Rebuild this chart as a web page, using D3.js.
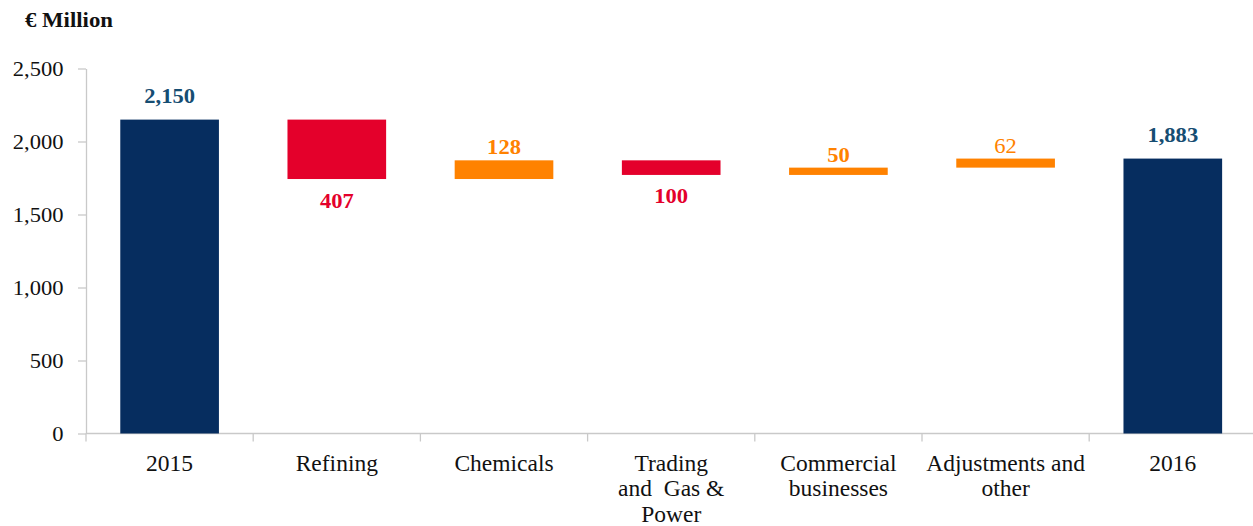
<!DOCTYPE html>
<html>
<head>
<meta charset="utf-8">
<script src="https://cdn.jsdelivr.net/npm/d3@7"></script>
<style>
  body { margin: 0; background: #fff; }
  svg { display: block; font-family: "Liberation Serif", "Times New Roman", serif; }
  .axis path, .axis line { stroke: #c9c9c9; stroke-width: 1.3; }
</style>
</head>
<body>
<svg width="1253" height="526"></svg>
<script>
// waterfall data
const categories = ["2015", "Refining", "Chemicals", "Trading and Gas & Power", "Commercial businesses", "Adjustments and other", "2016"];
const labelLines = [["2015"], ["Refining"], ["Chemicals"], ["Trading", "and  Gas &", "Power"], ["Commercial", "businesses"], ["Adjustments and", "other"], ["2016"]];
const deltas = [2150, -407, 128, -100, 50, 62, 1883];
const kinds = ["total", "down", "up", "down", "up", "up", "total"];
const valueLabels = ["2,150", "407", "128", "100", "50", "62", "1,883"];
const yTicks = [0, 500, 1000, 1500, 2000, 2500];

const colors = { total: "#062d5f", down: "#e4002b", up: "#ff8200" };
const labelColors = { total: "#164d72", down: "#e4002b", up: "#ff8200" };
const stretch = "scale(1.1,1)";

const svg = d3.select("svg");
const plotLeft = 86, plotBottom = 433.5, plotTop = 68.5;

// running start/end of each step
let run = 0;
const rows = categories.map((c, i) => {
    let y0, y1;
    if (kinds[i] === "total") { y0 = 0; y1 = deltas[i]; run = deltas[i]; }
    else { y0 = run; y1 = run + deltas[i]; run = y1; }
    return { cat: c, lines: labelLines[i], kind: kinds[i], lo: Math.min(y0, y1), hi: Math.max(y0, y1), label: valueLabels[i] };
});

const x = d3.scaleBand()
    .domain(categories)
    .range([plotLeft, plotLeft + 7 * 167.2])
    .paddingInner(0.41)
    .paddingOuter(0.205);

const xAxisScale = d3.scaleBand().domain(categories).range([plotLeft, plotLeft + 7 * 167.2]);

const y = d3.scaleLinear().domain([0, 2500]).range([plotBottom, plotTop]);

// y axis
const gY = svg.append("g")
    .attr("class", "axis")
    .attr("transform", `translate(${plotLeft},0)`)
    .call(d3.axisLeft(y).tickValues(yTicks).tickFormat(d3.format(",")).tickSize(8).tickPadding(12.5).tickSizeOuter(0))
    .attr("font-family", null);
gY.selectAll("text")
    .attr("font-size", 20.5)
    .attr("fill", "#111")
    .attr("transform", stretch);

// x axis: baseline + tick marks at band edges
const gX = svg.append("g").attr("class", "axis");
gX.append("line")
    .attr("x1", plotLeft).attr("x2", 1253)
    .attr("y1", plotBottom).attr("y2", plotBottom);
gX.selectAll(".edge")
    .data(categories)
    .join("line")
    .attr("class", "edge")
    .attr("x1", d => xAxisScale(d)).attr("x2", d => xAxisScale(d))
    .attr("y1", plotBottom).attr("y2", plotBottom + 8);

// bars
svg.selectAll(".bar")
    .data(rows)
    .join("rect")
    .attr("class", "bar")
    .attr("x", d => x(d.cat))
    .attr("width", x.bandwidth())
    .attr("y", d => y(d.hi))
    .attr("height", d => y(d.lo) - y(d.hi))
    .attr("fill", d => colors[d.kind]);

// value labels
svg.selectAll(".val")
    .data(rows)
    .join("text")
    .attr("class", "val")
    .attr("transform", d => {
        const cx = x(d.cat) + x.bandwidth() / 2;
        let ty;
        if (d.kind === "total") ty = y(d.hi) - 16.5;
        else if (d.kind === "up") ty = y(d.hi) - 6;
        else ty = y(d.lo) + 28.5;
        return `translate(${cx},${ty}) ${stretch}`;
    })
    .attr("text-anchor", "middle")
    .attr("font-size", 20.5)
    .attr("font-weight", d => d.label === "62" ? "normal" : "bold")
    .attr("fill", d => labelColors[d.kind])
    .text(d => d.label);

// category labels
const cl = svg.selectAll(".cat")
    .data(rows)
    .join("text")
    .attr("class", "cat")
    .attr("text-anchor", "middle")
    .attr("font-size", 23.5)
    .attr("fill", "#111")
    .attr("x", d => xAxisScale(d.cat) + xAxisScale.bandwidth() / 2);
cl.selectAll("tspan")
    .data(d => d.lines.map(t => ({ t, cx: xAxisScale(d.cat) + xAxisScale.bandwidth() / 2 })))
    .join("tspan")
    .attr("x", d => d.cx)
    .attr("y", (d, i) => 470.5 + i * 25.5)
    .style("white-space", "pre")
    .text(d => d.t);

// unit title
svg.append("text")
    .attr("transform", `translate(25,27) scale(1.14,1)`)
    .attr("font-size", 20)
    .attr("font-weight", "bold")
    .attr("fill", "#111")
    .text("€ Million");
</script>
</body>
</html>
